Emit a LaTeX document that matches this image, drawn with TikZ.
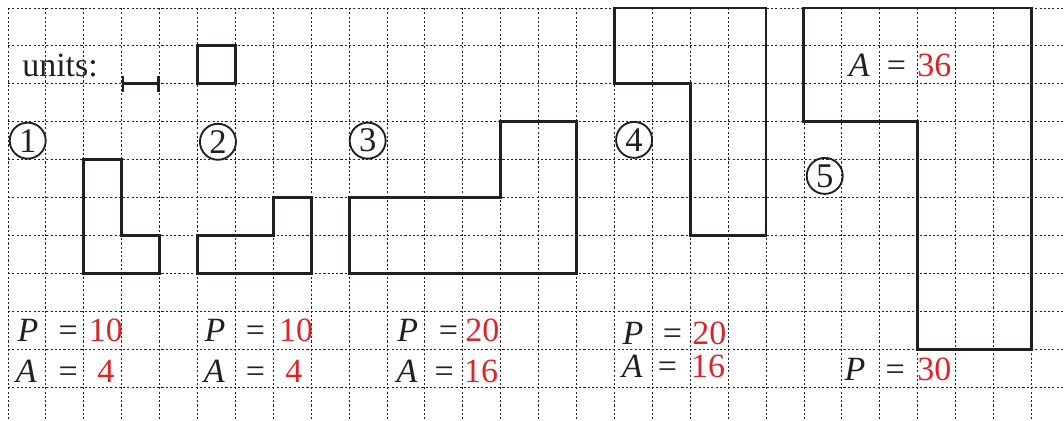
\documentclass[tikz,border=0pt]{standalone}
\usepackage{fontspec}
\setmainfont{Liberation Serif}
\usetikzlibrary{arrows.meta}
\definecolor{ink}{RGB}{35,31,32}
\definecolor{redval}{RGB}{218,37,42}
\tikzset{
  gridline/.style={ink, line width=0.6pt, dash pattern=on 1.6pt off 1.6pt},
  shapeline/.style={ink, line width=2.2pt, line join=miter},
  numcircle/.style={circle, draw=ink, line width=1.4pt, minimum size=0.95cm, inner sep=0pt, font=\fontsize{26}{28}\selectfont, text=ink},
  lbl/.style={anchor=base west, inner sep=0pt, font=\fontsize{25.5}{28}\selectfont, text=ink},
  val/.style={lbl, text=redval},
}
\begin{document}
\begin{tikzpicture}
\useasboundingbox (-0.211,0.211) rectangle (27.863,-10.897);
% grid
\foreach \i in {0,...,27} \draw[gridline] (\i,0) -- (\i,-10.897);
\foreach \j in {0,...,10} \draw[gridline] (0,-\j) -- (27.863,-\j);
% units
\node[lbl] (units) at (0.37,-1.82) {units:};
\coordinate (u1) at (3,-2);
\coordinate (u2) at (4,-2);
\draw[ink, line width=2pt, {Bar[width=12pt,line width=2pt]}-{Bar[width=12pt,line width=2pt]}] (u1) -- (u2);
\draw[shapeline] (5,-1) rectangle (6,-2);
% circled numbers
\node[numcircle] (c1) at (0.52,-3.5) {1};
\node[numcircle] (c2) at (5.54,-3.53) {2};
\node[numcircle] (c3) at (9.49,-3.5) {3};
\node[numcircle] (c4) at (16.52,-3.48) {4};
\node[numcircle] (c5) at (21.55,-4.43) {5};
% shapes
\draw[shapeline] (2,-4) -- (3,-4) -- (3,-6) -- (4,-6) -- (4,-7) -- (2,-7) -- cycle;
\draw[shapeline] (5,-6) -- (7,-6) -- (7,-5) -- (8,-5) -- (8,-7) -- (5,-7) -- cycle;
\draw[shapeline] (9,-5) -- (13,-5) -- (13,-3) -- (15,-3) -- (15,-7) -- (9,-7) -- cycle;
\draw[shapeline] (16,0) -- (20,0) -- (20,-6) -- (18,-6) -- (18,-2) -- (16,-2) -- cycle;
\draw[shapeline] (21,0) -- (27,0) -- (27,-9) -- (24,-9) -- (24,-3) -- (21,-3) -- cycle;
% block 1
\node[lbl] (p1) at (0.25,-8.81) {\textit{P}};
\node[lbl] (pe1) at (1.33,-8.81) {=};
\node[val] (pv1) at (2.13,-8.81) {10};
\node[lbl] (a1) at (0.2,-9.87) {\textit{A}};
\node[lbl] (ae1) at (1.33,-9.87) {=};
\node[val] (av1) at (2.35,-9.87) {4};
% block 2
\node[lbl] (p2) at (5.18,-8.81) {\textit{P}};
\node[lbl] (pe2) at (6.27,-8.81) {=};
\node[val] (pv2) at (7.15,-8.81) {10};
\node[lbl] (a2) at (5.16,-9.87) {\textit{A}};
\node[lbl] (ae2) at (6.27,-9.87) {=};
\node[val] (av2) at (7.31,-9.87) {4};
% block 3
\node[lbl] (p3) at (10.27,-8.81) {\textit{P}};
\node[lbl] (pe3) at (11.36,-8.81) {=};
\node[val] (pv3) at (12.06,-8.81) {20};
\node[lbl] (a3) at (10.25,-9.87) {\textit{A}};
\node[lbl] (ae3) at (11.25,-9.87) {=};
\node[val] (av3) at (12.03,-9.87) {16};
% block 4
\node[lbl] (p4) at (16.21,-8.89) {\textit{P}};
\node[lbl] (pe4) at (17.27,-8.89) {=};
\node[val] (pv4) at (18.05,-8.89) {20};
\node[lbl] (a4) at (16.19,-9.76) {\textit{A}};
\node[lbl] (ae4) at (17.14,-9.76) {=};
\node[val] (av4) at (18.02,-9.76) {16};
% block 5
\node[lbl] (a5) at (22.18,-1.82) {\textit{A}};
\node[lbl] (ae5) at (23.18,-1.82) {=};
\node[val] (av5) at (23.99,-1.82) {36};
\node[lbl] (p5) at (22.07,-9.84) {\textit{P}};
\node[lbl] (pe5) at (23.15,-9.84) {=};
\node[val] (pv5) at (23.99,-9.84) {30};
\end{tikzpicture}
\end{document}
